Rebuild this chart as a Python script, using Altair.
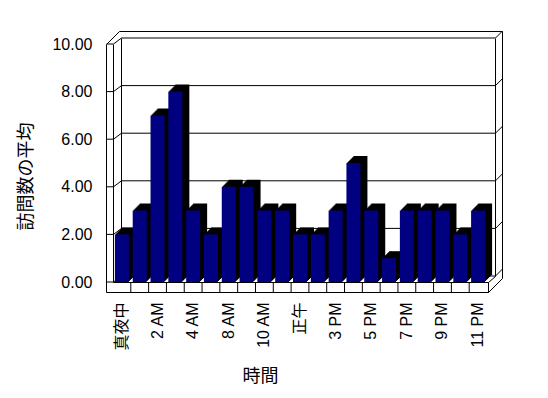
import altair as alt
import pandas as pd

# ---- data ----
categories = ["真夜中", "1 AM", "2 AM", "3 AM", "4 AM", "6 AM", "8 AM", "9 AM", "10 AM",
              "11 AM", "正午", "1 PM", "3 PM", "4 PM", "5 PM", "6 PM", "7 PM", "8 PM",
              "9 PM", "10 PM", "11 PM"]
visits = [2, 3, 7, 8, 3, 2, 4, 4, 3, 3, 2, 2, 3, 5, 3, 1, 3, 3, 3, 2, 3]
labeled = categories[::2]
y_ticks = [0, 2, 4, 6, 8, 10]

W, H = 374, 238
DEPTH = 7
FONT = "Liberation Sans, Noto Sans CJK JP"
CJK = "Noto Sans CJK JP"

bars_df = pd.DataFrame({"cat": categories, "visits": visits})
grid_df = pd.DataFrame({"v": y_ticks})
bound_df = pd.DataFrame({"cat": categories[1:]})

xs = alt.Scale(domain=categories, paddingInner=0, paddingOuter=0)
ys = alt.Scale(domain=[0, 10], nice=False)

x_axis = alt.Axis(values=labeled, labelAngle=-90, labelFont=FONT, labelFontSize=16,
                  labelColor="black", labelPadding=20, labelOverlap=False,
                  ticks=False, domain=False, grid=False,
                  title="時間", titleFont=CJK, titleFontSize=18,
                  titleFontWeight="normal", titleColor="black",
                  titleX=147, titleY=94, titleAlign="center", titleBaseline="middle")
y_axis = alt.Axis(values=y_ticks, format=".2f", labelFont="Liberation Sans",
                  labelFontSize=16, labelColor="black", labelPadding=21,
                  ticks=False, domain=False, grid=False,
                  title="訪問数の平均", titleFont=CJK, titleFontSize=18,
                  titleFontWeight="normal", titleColor="black",
                  titleX=-87, titleY=132, titleAlign="center", titleBaseline="middle")

# ---- 3D frame (decoration, pixel segments relative to plot area) ----
frame_segments = [
    (-7, 0, -7, 248),     # left wall outer edge
    (0, 0, 0, 238),       # left wall inner edge
    (-7, 0, 6, -13),      # left wall top diagonal
    (6, -13, 389, -13),   # back wall outer top
    (8, -6, 8, 232),      # back wall left edge
    (382, -6, 382, 232),  # right wall inner edge
    (389, -13, 389, 234), # right wall outer edge
    (389, 234, 375, 248), # right bottom diagonal
    (382, 232, 375, 238),
    (-7, 248, 375, 248),  # floor front bottom
    (0, 238, 375, 238),   # floor front top
    (375, 238, 375, 248), # floor front right
]

layers = []
for (a, b, c, d) in frame_segments:
    layers.append(
        alt.Chart().mark_rule(color="black", strokeWidth=1).encode(
            x=alt.value(a + 0.5), x2=alt.value(c + 0.5),
            y=alt.value(b + 0.5), y2=alt.value(d + 0.5))
    )

gy = alt.Y("v:Q", scale=ys, axis=y_axis)
gy2 = alt.Y2("v")
grid = alt.Chart(grid_df)
layers += [
    grid.mark_rule(color="black").encode(x=alt.value(-6.5), x2=alt.value(0.5), y=gy),
    grid.mark_rule(color="black", y2Offset=-6).encode(x=alt.value(0.5), x2=alt.value(8.5), y=gy, y2=gy2),
    grid.mark_rule(color="black", yOffset=-6).encode(x=alt.value(8.5), x2=alt.value(382.5), y=gy),
    grid.mark_rule(color="black", yOffset=-6, y2Offset=-13).encode(x=alt.value(382.5), x2=alt.value(389.5), y=gy, y2=gy2),
]

# ---- bars: black depth layers then navy front ----
base = alt.Chart(bars_df)
bx = alt.X("cat:N", sort=categories, scale=xs, axis=x_axis)
by = alt.Y("visits:Q", scale=ys, axis=y_axis)
for j in range(DEPTH, 0, -1):
    layers.append(
        base.mark_bar(color="black", width=14, xOffset=j, yOffset=-j, y2Offset=-j).encode(x=bx, y=by)
    )
layers.append(base.mark_bar(color="#000080", width=14).encode(x=bx, y=by))

# floor ticks at category boundaries
layers.append(
    alt.Chart(bound_df).mark_rule(color="black").encode(
        x=alt.X("cat:N", sort=categories, scale=xs, bandPosition=0, axis=x_axis),
        y=alt.value(238.5), y2=alt.value(248.5))
)

chart = alt.layer(*layers).properties(
    width=W, height=H,
    autosize=alt.AutoSizeParams(type="none"),
    padding={"left": 105, "top": 36, "right": 53, "bottom": 108},
).configure_view(strokeWidth=0)

chart.save("out.html", embed_options={"renderer": "svg", "actions": False})
